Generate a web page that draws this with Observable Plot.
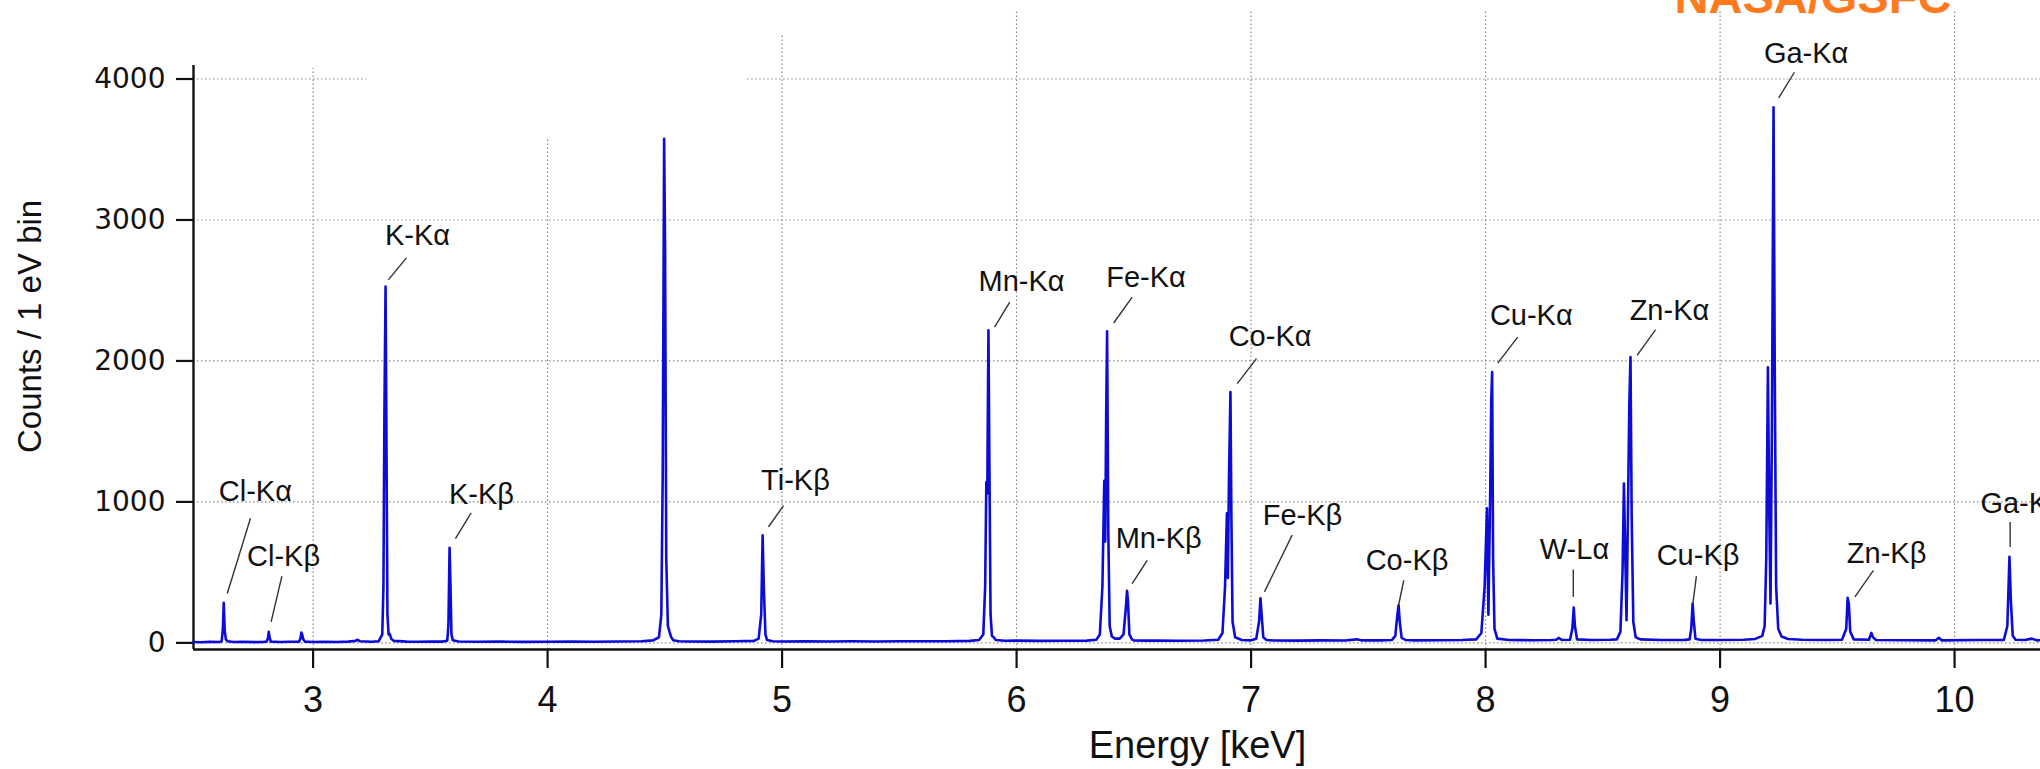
<!DOCTYPE html>
<html>
<head>
<meta charset="utf-8">
<script src="https://cdn.jsdelivr.net/npm/d3@7"></script>
<script src="https://cdn.jsdelivr.net/npm/@observablehq/plot@0.6"></script>
<style>
  html, body { margin: 0; padding: 0; background: #fff; width: 2040px; height: 769px; overflow: hidden; }
  #chart { width: 2040px; height: 769px; overflow: hidden; }
  #chart svg g[aria-label^="x-axis"] text { font-size: 36px; font-family: "Liberation Sans", Arial, sans-serif; fill: #111; }
  #chart svg g[aria-label^="y-axis"] text { font-size: 28px; font-family: "DejaVu Sans", sans-serif; fill: #111; }
  #chart svg g[aria-label^="x-axis"] path, #chart svg g[aria-label^="x-axis"] line,
  #chart svg g[aria-label^="y-axis"] path, #chart svg g[aria-label^="y-axis"] line { stroke: #111; stroke-width: 2.2px; stroke-opacity: 1; }
</style>
</head>
<body>
<div id="chart"></div>
<script>
// ---- Spectrum (energy in keV, counts per 1 eV bin) ----
const spectrumEnergy = [
  2.490, 2.520, 2.560, 2.600, 2.610, 2.615, 2.619, 2.623, 2.628, 2.635, 2.660, 2.700, 2.750, 2.790,
  2.803, 2.808, 2.811, 2.815, 2.820, 2.860, 2.900, 2.940, 2.946, 2.950, 2.953, 2.958, 2.965,
  3.000, 3.050, 3.100, 3.150, 3.180, 3.188, 3.200, 3.250, 3.280, 3.295, 3.300, 3.304, 3.309, 3.313,
  3.317, 3.322, 3.327, 3.333, 3.345, 3.400, 3.450, 3.500, 3.550, 3.572, 3.577, 3.582, 3.586, 3.590,
  3.596, 3.620, 3.700, 3.800, 3.900, 4.000, 4.100, 4.200, 4.300, 4.400, 4.450, 4.475, 4.485, 4.491,
  4.497, 4.501, 4.506, 4.513, 4.521, 4.527, 4.536, 4.560, 4.600, 4.700, 4.800, 4.880, 4.900, 4.911,
  4.917, 4.922, 4.929, 4.936, 4.960, 5.000, 5.100, 5.200, 5.300, 5.400, 5.500, 5.600, 5.700, 5.800,
  5.840, 5.858, 5.866, 5.871, 5.875, 5.880, 5.884, 5.889, 5.895, 5.902, 5.912, 5.950, 6.000, 6.100,
  6.200, 6.300, 6.340, 6.355, 6.366, 6.374, 6.378, 6.382, 6.386, 6.391, 6.397, 6.406, 6.420, 6.440,
  6.456, 6.466, 6.471, 6.475, 6.481, 6.492, 6.500, 6.550, 6.600, 6.700, 6.800, 6.860, 6.878, 6.889,
  6.897, 6.901, 6.906, 6.912, 6.916, 6.921, 6.932, 6.960, 7.000, 7.022, 7.034, 7.040, 7.045, 7.052,
  7.066, 7.100, 7.200, 7.300, 7.400, 7.450, 7.470, 7.550, 7.600, 7.615, 7.624, 7.629, 7.634, 7.642,
  7.660, 7.700, 7.800, 7.900, 7.960, 7.982, 7.996, 8.006, 8.012, 8.020, 8.024, 8.028, 8.032, 8.038,
  8.050, 8.100, 8.200, 8.280, 8.300, 8.313, 8.325, 8.360, 8.370, 8.376, 8.381, 8.390, 8.450, 8.530,
  8.560, 8.575, 8.584, 8.590, 8.596, 8.601, 8.607, 8.613, 8.618, 8.623, 8.630, 8.640, 8.660, 8.750,
  8.850, 8.870, 8.877, 8.883, 8.888, 8.895, 8.920, 9.000, 9.100, 9.150, 9.180, 9.190, 9.197, 9.204,
  9.210, 9.215, 9.221, 9.228, 9.233, 9.239, 9.248, 9.262, 9.290, 9.350, 9.450, 9.520, 9.538, 9.544,
  9.549, 9.555, 9.570, 9.635, 9.645, 9.652, 9.665, 9.800, 9.920, 9.933, 9.945, 10.100, 10.210, 10.225,
  10.234, 10.240, 10.248, 10.260, 10.300, 10.330, 10.350, 10.450
];
const spectrumCounts = [
  6, 4, 7, 6, 10, 90, 284, 90, 25, 12, 6, 8, 5, 7,
  10, 40, 78, 35, 9, 6, 8, 8, 30, 74, 62, 25, 9,
  6, 8, 6, 9, 14, 22, 12, 8, 12, 60, 400, 1600, 2527, 1400,
  200, 60, 62, 30, 14, 9, 8, 10, 9, 15, 120, 674, 400, 60,
  18, 10, 8, 9, 7, 8, 9, 8, 10, 12, 18, 40, 200, 1200,
  3576, 2800, 600, 120, 72, 40, 18, 12, 10, 9, 11, 14, 30, 200,
  764, 400, 60, 20, 12, 10, 12, 10, 11, 10, 12, 11, 12, 14,
  20, 60, 400, 1140, 1060, 2217, 1300, 200, 50, 40, 20, 15, 16, 14,
  15, 16, 22, 60, 400, 1150, 720, 1600, 2210, 800, 120, 45, 30, 30,
  60, 250, 369, 300, 60, 25, 18, 16, 17, 15, 17, 22, 70, 400,
  920, 460, 1200, 1780, 900, 150, 40, 20, 18, 30, 150, 317, 200, 40,
  20, 17, 16, 18, 17, 25, 18, 18, 20, 50, 200, 267, 150, 35,
  20, 18, 19, 20, 25, 70, 400, 955, 200, 1100, 1709, 1921, 600, 100,
  30, 20, 19, 20, 22, 35, 20, 22, 100, 251, 120, 25, 20, 22,
  25, 80, 500, 1130, 600, 161, 900, 1700, 2028, 900, 150, 40, 25, 20,
  21, 25, 100, 279, 150, 30, 20, 20, 22, 28, 50, 120, 600, 1955,
  900, 280, 1500, 3800, 2000, 400, 100, 45, 28, 22, 20, 22, 100, 319,
  280, 80, 25, 22, 71, 40, 20, 19, 18, 36, 18, 20, 20, 120,
  610, 300, 50, 22, 20, 30, 18, 20
];

// ---- Peak annotations (label centre and leader line ends, in keV / counts) ----
const peakNames  = ["Cl-Kα","Cl-Kβ","K-Kα","K-Kβ","Ti-Kβ","Mn-Kα","Fe-Kα","Mn-Kβ","Co-Kα","Fe-Kβ","Co-Kβ","Cu-Kα","W-Lα","Zn-Kα","Cu-Kβ","Ga-Kα","Zn-Kβ","Ga-Kβ"];
const labelE     = [2.754, 2.874, 3.445, 3.718, 5.057, 6.021, 6.552, 6.606, 7.081, 7.219, 7.665, 8.195, 8.379, 8.784, 8.906, 9.367, 9.710, 10.290];
const labelC     = [1071, 610, 2890, 1054, 1153, 2564, 2593, 740, 2169, 905, 586, 2323, 662, 2359, 615, 4179, 634, 987];
const leaderE1   = [2.733, 2.867, 3.398, 3.674, 5.006, 5.971, 6.493, 6.557, 7.023, 7.175, 7.651, 8.137, 8.374, 8.725, 8.899, 9.317, 9.654, 10.237];
const leaderC1   = [884, 473, 2731, 922, 973, 2418, 2453, 586, 2016, 764, 444, 2169, 520, 2222, 473, 4048, 515, 858];
const leaderE2   = [2.634, 2.821, 3.321, 3.607, 4.942, 5.906, 6.414, 6.493, 6.941, 7.057, 7.629, 8.052, 8.374, 8.646, 8.884, 9.250, 9.575, 10.237];
const leaderC2   = [350, 149, 2575, 740, 824, 2240, 2269, 421, 1839, 362, 267, 1985, 326, 2040, 279, 3867, 326, 681];

// ---- Axes and grid ----
const xTicks = [3, 4, 5, 6, 7, 8, 9, 10];
const xGridTop = [4075, 3578, 4323, 4486, 4486, 4486, 4486, 4486];   // where each vertical grid line ends (counts)
const yTicks = [0, 1000, 2000, 3000, 4000];
const yGridFrom = [2.490, 2.490, 2.490, 2.490, 2.490, 4.853];         // horizontal grid segments (keV)
const yGridTo   = [11.053, 11.053, 11.053, 11.053, 3.228, 11.053];
const yGridAt   = [0, 1000, 2000, 3000, 4000, 4000];
const xDomain = [2.490, 11.053];
const yDomain = [-47, 4486];
const yAxisTop = 4096;
const xLabel = "Energy [keV]";
const yLabel = "Counts / 1 eV bin";
const yLabelE = [1.796];
const yLabelC = [2245];

// ---- Credit ----
const credit = ["NASA/GSFC"];
const creditE = [9.396];
const creditC = [4573];

const spectrum = spectrumEnergy.map((e, i) => ({e, c: spectrumCounts[i]}));
const peaks = peakNames.map((name, i) => ({
  name, e: labelE[i], c: labelC[i],
  e1: leaderE1[i], c1: leaderC1[i], e2: leaderE2[i], c2: leaderC2[i]
}));
const vGrid = xTicks.map((e, i) => ({e, top: xGridTop[i]}));
const hGrid = yGridAt.map((c, i) => ({c, from: yGridFrom[i], to: yGridTo[i]}));
const credits = credit.map((t, i) => ({t, e: creditE[i], c: creditC[i]}));
const yLab = [{t: yLabel, e: yLabelE[0], c: yLabelC[0]}];

const grid = {stroke: "#888", strokeWidth: 1.2, strokeDasharray: "1.5,2.5"};

const chart = Plot.plot({
  width: 2201,
  height: 769,
  marginLeft: 193,
  marginRight: 0,
  marginTop: 10,
  marginBottom: 120,
  style: "max-width:none; overflow:hidden; background:#fff; font-family:'Liberation Sans', Arial, sans-serif; font-size:29px; color:#111;",
  x: {domain: xDomain, ticks: xTicks, tickSize: 19, tickPadding: 18, tickFormat: d => String(d), label: null},
  y: {domain: yDomain, ticks: yTicks, tickSize: 17, tickPadding: 11, tickFormat: d => String(d), label: null},
  marks: [
    Plot.ruleX(vGrid, {x: "e", y1: yDomain[0], y2: "top", ...grid}),
    Plot.ruleY(hGrid, {y: "c", x1: "from", x2: "to", ...grid}),
    Plot.ruleY([yDomain[0]], {stroke: "#111", strokeWidth: 2.4}),
    Plot.ruleX([xDomain[0]], {y1: yDomain[0], y2: yAxisTop, stroke: "#111", strokeWidth: 2.4}),
    Plot.line(spectrum, {x: "e", y: "c", stroke: "#0c0cd6", strokeWidth: 2.6, strokeLinejoin: "round"}),
    Plot.link(peaks, {x1: "e1", y1: "c1", x2: "e2", y2: "c2", stroke: "#333", strokeWidth: 1.4}),
    Plot.text(peaks, {x: "e", y: "c", text: "name", fontSize: 29, fill: "#111", ariaLabel: "peak labels"}),
    Plot.text(credits, {x: "e", y: "c", text: "t", fontSize: 47, fontWeight: "bold", fill: "#ff7a1e"}),
    Plot.text([xLabel], {text: d => d, frameAnchor: "bottom", dy: 108, fontSize: 38, fill: "#111"}),
    Plot.text(yLab, {x: "e", y: "c", text: "t", rotate: -90, fontSize: 33, fill: "#111"})
  ]
});

// Greek letters in a serif face, like the reference
const ns = "http://www.w3.org/2000/svg";
chart.querySelectorAll('g[aria-label="peak labels"] text').forEach(t => {
  const s = t.textContent;
  const g = s.slice(-1);
  if ("αβ".includes(g)) {
    t.textContent = s.slice(0, -1);
    const ts = document.createElementNS(ns, "tspan");
    ts.setAttribute("font-family", "Liberation Serif");
    ts.setAttribute("font-size", "32");
    ts.textContent = g;
    t.appendChild(ts);
  }
});

document.getElementById("chart").appendChild(chart);
</script>
</body>
</html>
